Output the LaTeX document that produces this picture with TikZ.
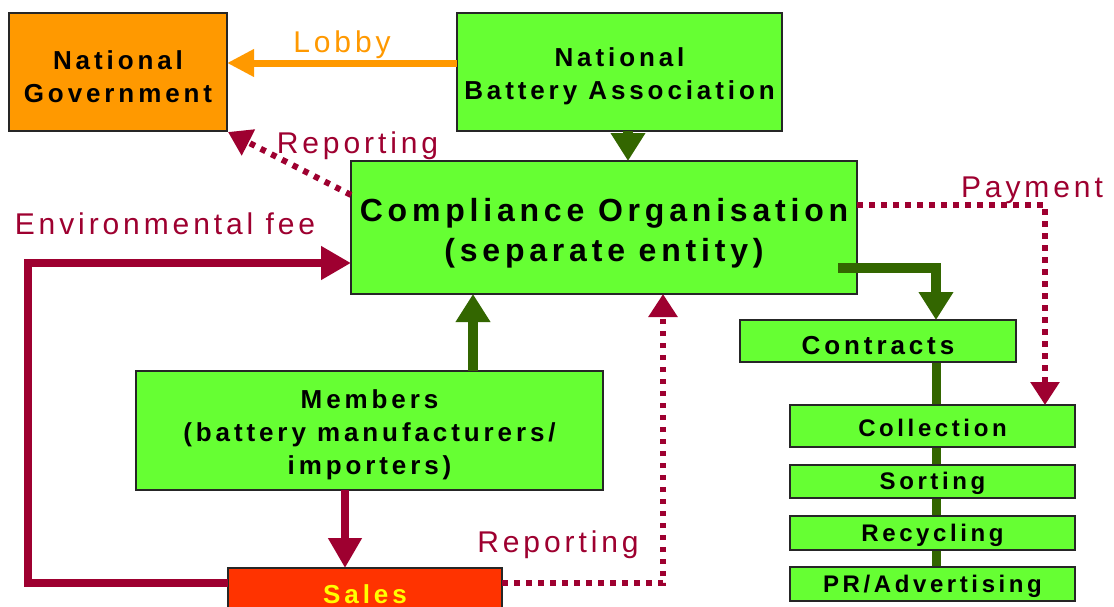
\documentclass[tikz,border=0pt]{standalone}
\usepackage{fontspec}
\setmainfont{Liberation Sans}
\newfontfamily\boxfont[LetterSpace=15]{Liberation Sans}
\newfontfamily\labelfont[LetterSpace=13]{Liberation Sans}
\usetikzlibrary{arrows.meta,backgrounds}
\definecolor{boxgreen}{HTML}{66FF33}
\definecolor{govorange}{HTML}{FF9900}
\definecolor{salesred}{HTML}{FF3300}
\definecolor{salesyellow}{HTML}{FFFF00}
\definecolor{flowgreen}{HTML}{336600}
\definecolor{crimson}{HTML}{9E0030}
% struts that lower the text a little inside its box
\newcommand\boxpad{\rule{0pt}{1.08em}}
\newcommand\stagepad{\rule{0pt}{0.9em}}
\begin{document}
\begin{tikzpicture}[x=1pt,y=-1pt,
  box/.style={draw=black!85, line width=1.2pt, fill=boxgreen, inner sep=0pt,
    outer sep=0pt, align=center, text=black,
    font=\boxfont\bfseries\fontsize{26}{33}\selectfont},
  stage/.style={box, minimum width=285pt,
    font=\boxfont\bfseries\fontsize{24}{28}\selectfont},
  lbl/.style={font=\labelfont\fontsize{30}{36}\selectfont, anchor=base,
    inner sep=0pt, text=crimson},
  greenflow/.style={draw=flowgreen, line width=10pt,
    -{Triangle[width=33pt,length=28pt]}},
  redflow/.style={draw=crimson, line width=8pt, line join=miter,
    -{Triangle[width=32pt,length=30pt]}},
  dotflow/.style={draw=crimson, line width=6pt, dash pattern=on 5.5pt off 6.5pt,
    -{Triangle[width=28pt,length=23pt]}},
  lobbyflow/.style={draw=govorange, line width=7pt,
    -{Triangle[width=26pt,length=27pt]}}]

\useasboundingbox (0,0) rectangle (1114,606);
\clip (0,0) rectangle (1114,606);

% organisations
\node[box, fill=govorange, minimum width=218pt, minimum height=118pt] (gov)
  at (118,72) {\boxpad National\\Government};
\node[box, minimum width=325pt, minimum height=118pt] (nba)
  at (619.5,72) {\boxpad National\\Battery Association};
\node[box, minimum width=506pt, minimum height=133pt,
  font=\boxfont\bfseries\fontsize{32}{40}\selectfont] (comp)
  at (604,227.5) {\boxpad Compliance Organisation\\(separate entity)};
\node[box, minimum width=467pt, minimum height=119pt] (mem)
  at (369.5,430.5) {\boxpad Members\\(battery manufacturers/\\importers)};
\node[box, fill=salesred, text=salesyellow, minimum width=274pt,
  minimum height=52pt] (sales) at (365,594) {Sales};

% contracted services
\node[box, minimum width=276pt, minimum height=42pt] (contracts)
  at (878,341) {\boxpad Contracts};
\node[stage, minimum height=42pt] (collect) at (932.5,426) {\stagepad Collection};
\node[stage, minimum height=33pt] (sort) at (932.5,481.5) {\stagepad Sorting};
\node[stage, minimum height=34pt] (recycle) at (932.5,533) {\stagepad Recycling};
\node[stage, minimum height=34pt] (pr) at (932.5,584) {\stagepad PR/Advertising};

% spine behind the service boxes
\begin{pgfonlayer}{background}
  \fill[white] (0,0) rectangle (1114,606);
  \draw[flowgreen, line width=9pt] ([xshift=58pt]contracts.south)
    -- ([xshift=3.5pt]pr.north);
\end{pgfonlayer}

% flows
\draw[lobbyflow] ([yshift=9pt]nba.west) -- ([yshift=9pt]gov.east);
\draw[greenflow] ([xshift=8.5pt]nba.south) -- ([xshift=8.5pt]nba.south |- comp.north);
\draw[dotflow] ([yshift=32.5pt]comp.west) -- ([xshift=1pt,yshift=-1pt]gov.south east);
\draw[dotflow] ([yshift=22.5pt]comp.east) -| ([xshift=112.5pt]collect.north);
\draw[greenflow] ([xshift=-19pt,yshift=-40.5pt]comp.east)
  -| ([xshift=58pt]contracts.north);
\draw[greenflow] ([xshift=103.5pt]mem.north) -- ([xshift=103.5pt]mem.north |- comp.south);
\draw[redflow] ([xshift=-24.5pt]mem.south) -- ([xshift=-24.5pt]mem.south |- sales.north);
\draw[redflow] ([yshift=11pt]sales.west) -| ([xshift=-323pt,yshift=-35.5pt]comp.west)
  -- ([yshift=-35.5pt]comp.west);
\draw[dotflow] ([yshift=11pt]sales.east) -| ([xshift=59pt]comp.south);

% labels
\node[lbl, text=govorange] (lobbylbl) at (342,52) {Lobby};
\node[lbl] (replbltop) at (357.5,153) {Reporting};
\node[lbl] (feelbl) at (165,234) {Environmental fee};
\node[lbl] (paylbl) at (1032,197) {Payment};
\node[lbl] (replblbot) at (558,552) {Reporting};
\end{tikzpicture}
\end{document}
